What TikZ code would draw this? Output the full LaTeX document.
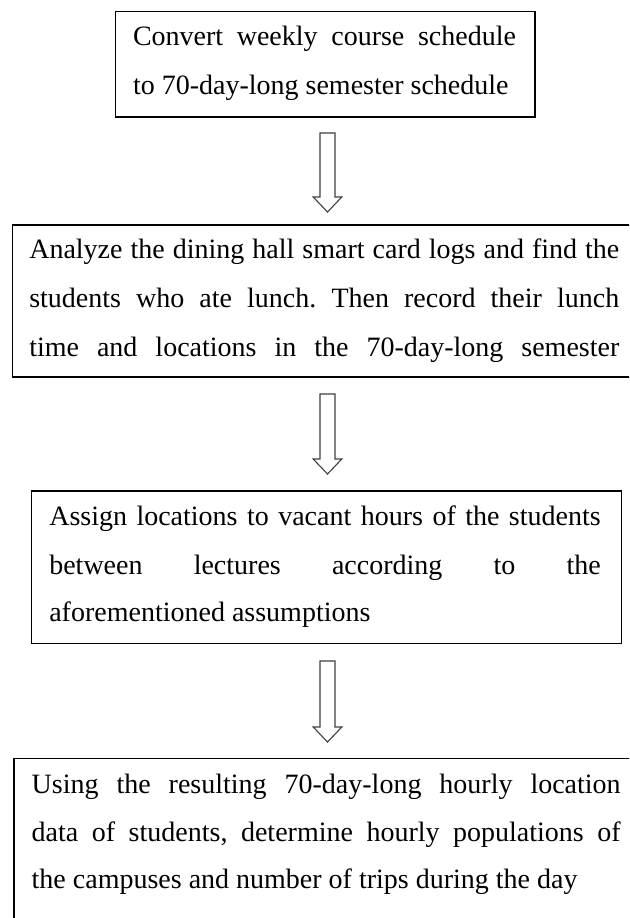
\documentclass[tikz,border=0pt]{standalone}
\usepackage{fontspec}
\setmainfont{Liberation Serif}
\usetikzlibrary{calc}
\frenchspacing
\newlength\lpad
% justified line: offset from previous baseline, width, text
\newcommand\jl[3]{\kern#1\relax\hbox{\kern\lpad\smash{\makebox[#2][s]{#3}}}}
% natural line: offset from previous baseline, text
\newcommand\pl[2]{\kern#1\relax\hbox{\kern\lpad\smash{#2}}}
% box body: width, height, left padding, lines
\newcommand\boxbody[4]{\vbox to #2{\offinterlineskip\setlength\lpad{#3}\hbox to #1{}#4\vfill}}
\tikzset{
  flowbox/.style={draw=black, line width=1.2pt, inner sep=0pt, outer sep=0pt,
    anchor=north west, font=\frenchspacing\fontsize{28pt}{48pt}\selectfont, text=black},
  hollowarrow/.style={draw=black!75, line width=1.1pt, fill=white, line join=miter,
    to path={let \p1=(\tikztostart), \p2=(\tikztotarget) in
      (\x1-7.5pt,\y1) -- (\x1-7.5pt,\y2+15pt) -- (\x1-14.3pt,\y2+15pt) -- (\x1,\y2)
      -- (\x1+14.3pt,\y2+15pt) -- (\x1+7.5pt,\y2+15pt) -- (\x1+7.5pt,\y1) -- cycle}}
}
\begin{document}
\begin{tikzpicture}[x=1pt,y=1pt]
\useasboundingbox (0,0) rectangle (629,-918);
\fill[white] (0,0) rectangle (629,-918);
\clip (0,0) rectangle (629,-918);
\node[flowbox] (b1) at (115.7,-11.7) {\boxbody{419.3pt}{105.3pt}{17.3pt}{%
  \jl{33.8pt}{383pt}{Convert weekly course schedule}%
  \pl{49pt}{to 70-day-long semester schedule}}};
\node[flowbox] (b2) at (12.3,-225) {\boxbody{630pt}{152pt}{17pt}{%
  \jl{33.5pt}{590pt}{Analyze the dining hall smart card logs and find the}%
  \jl{49pt}{590pt}{students who ate lunch. Then record their lunch}%
  \jl{48.5pt}{590pt}{time and locations in the 70-day-long semester}}};
\node[flowbox] (b3) at (31.7,-491) {\boxbody{589.6pt}{152.5pt}{17.6pt}{%
  \jl{34pt}{551.4pt}{Assign locations to vacant hours of the students}%
  \jl{49pt}{551.4pt}{between lectures according to the}%
  \pl{47pt}{aforementioned assumptions}}};
\node[flowbox] (b4) at (14,-758.5) {\boxbody{630pt}{200pt}{17.7pt}{%
  \jl{34.8pt}{589pt}{Using the resulting 70-day-long hourly location}%
  \jl{48.4pt}{589pt}{data of students, determine hourly populations of}%
  \pl{46.6pt}{the campuses and number of trips during the day}}};
\coordinate (ax) at (327.5,0);
\draw[hollowarrow] ($(b1.south -| ax)+(0,-16)$) to ($(b2.north -| ax)+(0,13)$);
\draw[hollowarrow] ($(b2.south -| ax)+(0,-17)$) to ($(b3.north -| ax)+(0,17)$);
\draw[hollowarrow] ($(b3.south -| ax)+(0,-17.5)$) to ($(b4.north -| ax)+(0,16.5)$);
\end{tikzpicture}
\end{document}
